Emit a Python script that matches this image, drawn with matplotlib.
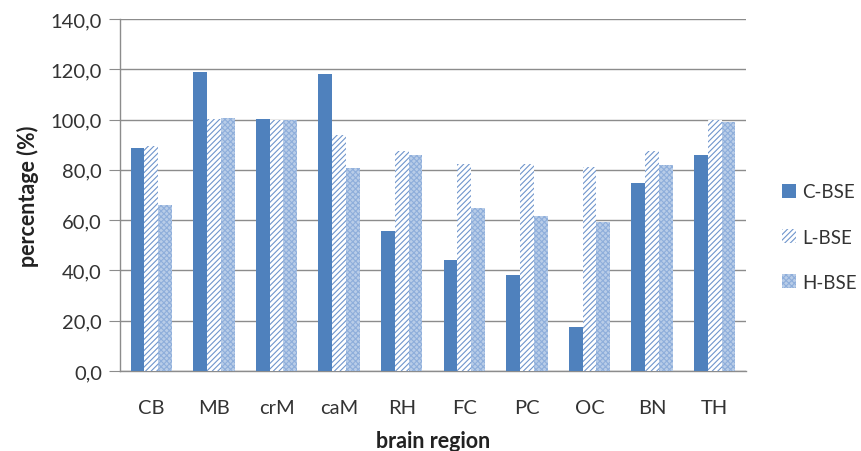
import matplotlib
matplotlib.use("Agg")
import matplotlib.pyplot as plt
import numpy as np

categories = ["CB", "MB", "crM", "caM", "RH", "FC", "PC", "OC", "BN", "TH"]
c_bse = [88.6, 118.8, 100.1, 118.3, 55.6, 44.3, 38.3, 17.4, 74.8, 85.9]
l_bse = [89.6, 100.2, 100.0, 93.9, 87.6, 82.2, 82.2, 81.3, 87.6, 99.8]
h_bse = [65.9, 100.8, 99.9, 80.7, 85.9, 64.8, 61.5, 59.3, 82.0, 99.2]
series_names = ["C-BSE", "L-BSE", "H-BSE"]
y_ticks = [0, 20, 40, 60, 80, 100, 120, 140]

plt.rcParams['font.family'] = ['Lato', 'DejaVu Sans']
plt.rcParams['hatch.linewidth'] = 0.8

fig = plt.figure(figsize=(8.62, 4.52), dpi=100)
ax = fig.add_axes([120/862, 1-372/452, (746-120)/862, (372-20)/452])

x = np.arange(len(categories))
w = 0.22
ax.bar(x - w, c_bse, w, color="#4F81BD", linewidth=0, label=series_names[0], zorder=3)
ax.bar(x, l_bse, w, facecolor="white", edgecolor="#6f95cc", hatch="//////", linewidth=0,
       label=series_names[1], zorder=3)
ax.bar(x + w, h_bse, w, facecolor="#b9cde8", edgecolor="#8eaedb", hatch="xxxxxx", linewidth=0,
       label=series_names[2], zorder=3)

ax.set_xlim(-0.5, len(categories) - 0.5)
ax.set_ylim(0, 140)
ax.set_yticks(y_ticks)
ax.set_yticklabels([f"{v:.1f}".replace(".", ",") for v in y_ticks])
ax.set_xticks(x)
ax.set_xticklabels(categories)
ax.yaxis.grid(True, color="#8c8c8c", linewidth=1, zorder=0)
ax.set_axisbelow(True)

for s in ["top", "right"]:
    ax.spines[s].set_visible(False)
for s in ["left", "bottom"]:
    ax.spines[s].set_color("#8c8c8c")
    ax.spines[s].set_linewidth(1)

ax.tick_params(axis="y", length=8, color="#8c8c8c", labelsize=14.5, labelcolor="#333333", pad=5)
ax.tick_params(axis="x", length=0, labelsize=14.5, labelcolor="#333333", pad=20)

ax.set_xlabel("brain region", fontsize=15.5, fontweight="bold", color="#222222", labelpad=10)
ax.set_ylabel("percentage (%)", fontsize=15.5, fontweight="bold", color="#222222", labelpad=8)

leg = fig.legend(loc="center left", bbox_to_anchor=(782/862, 1-238/452), frameon=False,
                 fontsize=13.5, handlelength=0.75, handleheight=0.75, handletextpad=0.35,
                 labelspacing=1.5, labelcolor="#333333", borderpad=0, borderaxespad=0)

fig.savefig("out.png", dpi=100)
